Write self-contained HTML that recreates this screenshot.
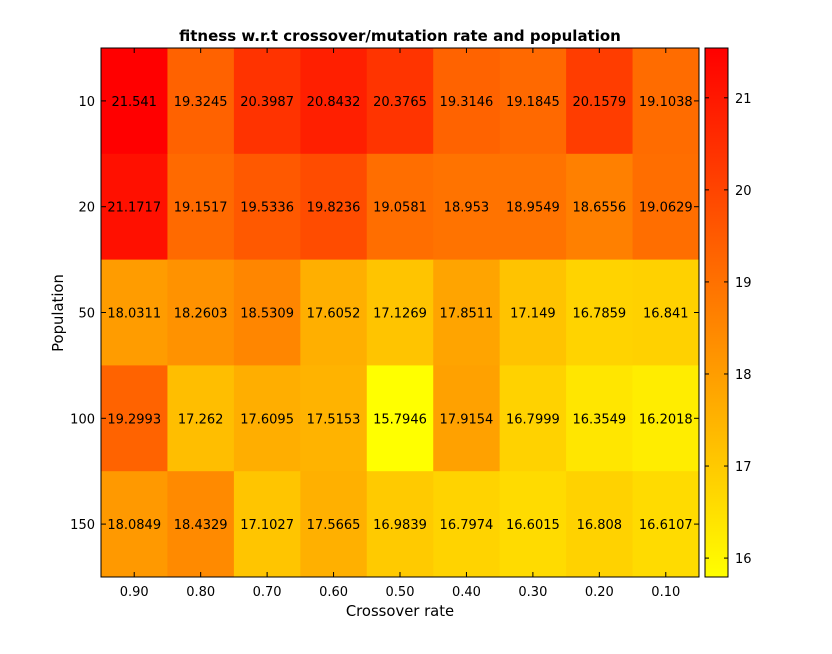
<!DOCTYPE html>
<html><head><meta charset="utf-8"><style>
body{margin:0;background:#fff;}
svg text{font-family:"DejaVu Sans","Liberation Sans",sans-serif;}
</style></head><body>
<svg id="chart" width="832" height="649" xmlns="http://www.w3.org/2000/svg">
<rect width="832" height="649" fill="#fff"/>
<g id="cells"></g>
<g id="labels"></g>
<g id="axes"></g>
<g id="cbar"></g>
<text x="400" y="41" text-anchor="middle" font-size="15" font-weight="bold">fitness w.r.t crossover/mutation rate and population</text>
<text x="400" y="616" text-anchor="middle" font-size="14.8">Crossover rate</text>
<text transform="translate(63,313) rotate(-90)" text-anchor="middle" font-size="14.8">Population</text>
</svg>
<script>
const xCategories=["0.90","0.80","0.70","0.60","0.50","0.40","0.30","0.20","0.10"];
const yCategories=["10","20","50","100","150"];
const row10=[21.541,19.3245,20.3987,20.8432,20.3765,19.3146,19.1845,20.1579,19.1038];
const row20=[21.1717,19.1517,19.5336,19.8236,19.0581,18.953,18.9549,18.6556,19.0629];
const row50=[18.0311,18.2603,18.5309,17.6052,17.1269,17.8511,17.149,16.7859,16.841];
const row100=[19.2993,17.262,17.6095,17.5153,15.7946,17.9154,16.7999,16.3549,16.2018];
const row150=[18.0849,18.4329,17.1027,17.5665,16.9839,16.7974,16.6015,16.808,16.6107];
const cbarTicks=[16,17,18,19,20,21];
const rows=[row10,row20,row50,row100,row150];
const NS="http://www.w3.org/2000/svg";
const L=101,R=699,T=48,B=577;
const cw=(R-L)/xCategories.length, ch=(B-T)/yCategories.length;
const all=rows.flat();const vmin=Math.min(...all),vmax=Math.max(...all);
function color(v){const t=(v-vmin)/(vmax-vmin);const g=Math.round(255*(1-t));return `rgb(255,${g},0)`;}
function xPos(i){return L+i*cw;}
function yPos(j){return T+j*ch;}
function cY(v){return B-(v-vmin)/(vmax-vmin)*(B-T);}
function mk(tag,attrs,parent,text){const e=document.createElementNS(NS,tag);for(const k in attrs)e.setAttribute(k,attrs[k]);if(text!==undefined)e.textContent=text;document.getElementById(parent).appendChild(e);return e;}
rows.forEach((r,j)=>r.forEach((v,i)=>{
 const c=mk('rect',{x:xPos(i),y:yPos(j),width:cw+0.5,height:ch+0.5,fill:color(v)},'cells');
 
 
 const t=mk('text',{x:xPos(i)+cw/2,y:yPos(j)+ch/2+5,'text-anchor':'middle','font-size':13},'labels',String(v));
 
 
}));
mk('rect',{x:L,y:T,width:R-L,height:B-T,fill:'none',stroke:'#000','stroke-width':1},'axes');
xCategories.forEach((c,i)=>{const x=xPos(i)+cw/2;
 mk('line',{x1:x,x2:x,y1:B,y2:B-5,stroke:'#000'},'axes');mk('line',{x1:x,x2:x,y1:T,y2:T+5,stroke:'#000'},'axes');
 const t=mk('text',{x:x,y:B+19,'text-anchor':'middle','font-size':13},'axes',c);
 
 });
yCategories.forEach((c,j)=>{const y=yPos(j)+ch/2;
 mk('line',{x1:L,x2:L+5,y1:y,y2:y,stroke:'#000'},'axes');mk('line',{x1:R,x2:R-5,y1:y,y2:y,stroke:'#000'},'axes');
 const t=mk('text',{x:L-6,y:y+5,'text-anchor':'end','font-size':13},'axes',c);
 
 });
const CL=705,CR=728;
const grad=mk('linearGradient',{id:'g',x1:0,y1:1,x2:0,y2:0},'cbar');
mk('stop',{offset:0,'stop-color':'rgb(255,255,0)'},'g');mk('stop',{offset:1,'stop-color':'rgb(255,0,0)'},'g');
mk('rect',{x:CL,y:T,width:CR-CL,height:B-T,fill:'url(#g)',stroke:'#000'},'cbar');
cbarTicks.forEach(v=>{const y=cY(v);
 mk('line',{x1:CL,x2:CL+4,y1:y,y2:y,stroke:'#000'},'cbar');mk('line',{x1:CR,x2:CR-4,y1:y,y2:y,stroke:'#000'},'cbar');
 const t=mk('text',{x:CR+7,y:y+5,'font-size':13},'cbar',String(v));
 
 });
</script>
</body></html>
